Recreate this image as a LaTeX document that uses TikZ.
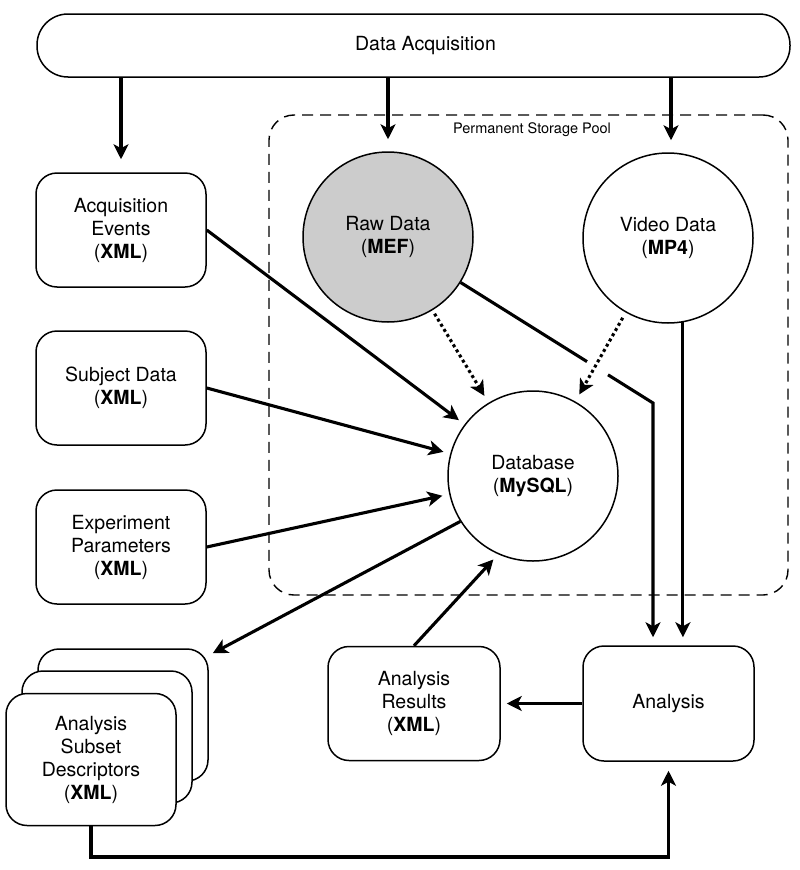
\documentclass[tikz,border=0pt]{standalone}
\usepackage{fontspec}
\setmainfont{TeX Gyre Heros}
\usetikzlibrary{arrows.meta}
\definecolor{rawfill}{RGB}{204,204,204}
\begin{document}
\begin{tikzpicture}[x=1pt,y=-1pt,
  every node/.style={font=\fontsize{19.5}{23}\selectfont, align=center, inner sep=0pt},
  box/.style={draw, line width=1.5pt, rounded corners=21pt, minimum width=170pt, minimum height=114pt, fill=white},
  stackbox/.style={box, minimum height=132pt},
  circ/.style={draw, circle, line width=1.5pt, minimum size=170pt, fill=white},
  poolbox/.style={draw, line width=1.4pt, dash pattern=on 11pt off 7pt, rounded corners=25pt, minimum width=519pt, minimum height=480pt},
  arr/.style={line width=3.1pt, -{Stealth[length=15pt,width=15pt,inset=4pt]}},
  dotarr/.style={arr, dash pattern=on 3pt off 3pt},
  plain/.style={line width=3.1pt},
]
\useasboundingbox (0,0) rectangle (800,870);

% storage pool
\node[poolbox] (pool) at (528.5,355) {};
\node[font=\fontsize{14.5}{17}\selectfont] (poollabel) at (532,130) {Permanent Storage Pool};

% nodes
\node[box, rounded corners=31pt, minimum width=753pt, minimum height=63pt] (da) at (413.5,45.5) {\hspace*{24pt}Data Acquisition};
\node[box] (acq) at (121,230) {Acquisition\\Events\\(\textbf{XML})};
\node[box] (subj) at (121,388) {Subject Data\\(\textbf{XML})};
\node[box] (exp) at (121,547) {Experiment\\Parameters\\(\textbf{XML})};
\node[circ, fill=rawfill] (raw) at (388,237) {Raw Data\\(\textbf{MEF})};
\node[circ] (vid) at (668,238) {Video Data\\(\textbf{MP4})};
\node[circ] (db) at (533,476) {Database\\(\textbf{MySQL})};
\node[box, minimum width=171pt, minimum height=115pt] (ana) at (668.5,703.5) {Analysis};
\node[box, minimum width=172pt] (res) at (414,703.5) {Analysis\\Results\\(\textbf{XML})};
\node[stackbox] (asdback) at (123,715) {};
\node[stackbox] (asdmid) at (107,737) {};
\node[stackbox] (asdfront) at (91,759.5) {Analysis\\Subset\\Descriptors\\(\textbf{XML})};

% helper coordinates
\coordinate (jA) at (587,361.6);
\coordinate (jB) at (608,374.8);
\coordinate (bend) at (653,403);
\coordinate (floor) at (0,857);

% connectors from data acquisition
\draw[arr, shorten >=13pt] (da.south -| acq.north) -- (acq.north);
\draw[arr, shorten >=12pt] (da.south -| raw.north) -- (raw.north);
\draw[arr, shorten >=12pt] ([xshift=3pt]da.south -| vid.north) -- ([xshift=3pt]vid.north);

% into database
\draw[arr, shorten >=7pt] (acq.east) -- (db);
\draw[arr, shorten >=7pt] (subj.east) -- (db);
\draw[arr, shorten >=7pt] (exp.east) -- (db);

% raw data to analysis (with jump)
\draw[plain] (raw) -- (jA);
\draw[arr, shorten >=8pt] (jB) -- (bend) -- (bend |- ana.north);

% dotted
\draw[dotarr, shorten <=4pt, shorten >=8pt] (raw) -- (db);
\draw[dotarr, shorten <=6pt, shorten >=8pt] (vid) -- (db);

% video to analysis
\draw[arr, shorten >=8pt] (vid.-80) -- (vid.-80 |- ana.north);

% analysis flows
\draw[arr, shorten >=6pt] (ana.west) -- (res.east);
\draw[arr, shorten >=7pt] (res.north) -- (db.-114);
\draw[arr] (db.-148) -- ([shift={(4,5)}]asdback.north east);
\draw[arr, shorten >=9pt] (asdfront.south) -- (asdfront.south |- floor) -| (ana.south);
\end{tikzpicture}
\end{document}
